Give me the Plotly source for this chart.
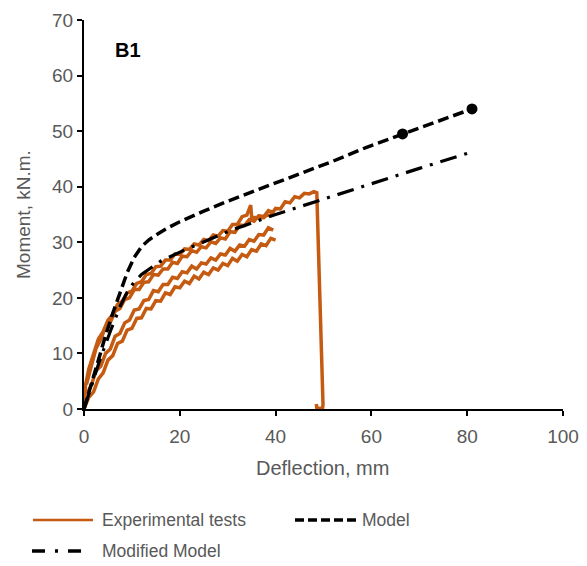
import plotly.graph_objects as go

# ---------------- data ----------------
x_ticks = [0, 20, 40, 60, 80, 100]
y_ticks = [0, 10, 20, 30, 40, 50, 60, 70]

# Experimental tests (several specimens, same legend entry)
expA_x = [0, 0.3, 1, 2, 3, 4, 5, 6, 7, 8, 9, 10, 11, 12, 13, 14, 15, 16, 17, 18, 19, 20,
          21, 22, 23, 24, 25, 26, 27, 28, 29, 30, 31, 32, 33, 34, 34.8, 35.0, 37.5,
          38, 39, 40, 41, 42, 43, 44, 45, 46, 47, 48, 48.6, 49.9, 49.8, 48.6, 48.5]
expA_y = [0.3, 4.2, 7.2, 9.8, 12.6, 13.9, 16.0, 17.0, 18.8, 19.4, 20.9, 21.2, 22.6, 22.9,
          24.2, 24.4, 25.6, 25.7, 26.8, 26.8, 27.9, 27.8, 28.8, 28.7, 29.7, 29.5, 30.5,
          30.3, 31.3, 31.1, 32.1, 32.0, 33.2, 33.2, 34.6, 34.9, 36.7, 34.5, 34.4, 34.8,
          34.9, 36.1, 36.0, 37.3, 37.1, 38.2, 38.0, 38.8, 38.7, 39.1, 38.9, 0.8, 0.1,
          0.2, 0.9]

expB_x = [0.5, 1.5, 2.5, 3.5, 4.5, 5.5, 6.5, 7.5, 8.5, 9.5, 10.5, 11.5, 12.5, 13.5,
          14.5, 15.5, 16.5, 17.5, 18.5, 19.5, 20.5, 21.5, 22.5, 23.5, 24.5, 25.5, 26.5,
          27.5, 28.5, 29.5, 30.5, 31.5, 32.5, 33.5, 34.5, 35.5, 36.5, 37.5, 38.5, 39.5]
expB_y = [4.4, 7.5, 10.9, 12.5, 14.8, 15.6, 17.6, 18.1, 19.7, 20.0, 21.5, 21.5, 22.8,
          22.9, 24.2, 24.1, 25.2, 25.2, 26.4, 26.2, 27.5, 27.4, 28.5, 28.2, 29.2, 29.0,
          30.1, 29.8, 30.8, 30.6, 31.9, 31.8, 33.1, 33.0, 34.1, 33.8, 34.8, 34.6, 35.7, 35.4]

expC_x = list(range(0, 41))
expC_y = [0, 2.1, 3.1, 5.4, 6.5, 8.8, 9.6, 11.8, 12.2, 14.2, 14.5, 16.3, 16.4, 18.1, 18.0,
          19.5, 19.4, 20.9, 20.6, 22.0, 21.8, 23.0, 22.6, 23.9, 23.4, 24.6, 24.2, 25.4,
          25.0, 26.2, 25.8, 27.1, 26.6, 27.8, 27.4, 28.7, 28.4, 29.7, 29.4, 30.7, 30.4]

expD_x = [0.5, 1.5, 2.5, 3.5, 4.5, 5.5, 6.5, 7.5, 8.5, 9.5, 10.5, 11.5, 12.5, 13.5,
          14.5, 15.5, 16.5, 17.5, 18.5, 19.5, 20.5, 21.5, 22.5, 23.5, 24.5, 25.5, 26.5,
          27.5, 28.5, 29.5, 30.5, 31.5, 32.5, 33.5, 34.5, 35.5, 36.5, 37.5, 38.5, 39.5]
expD_y = [2.6, 4.2, 6.9, 7.7, 10.0, 10.8, 13.1, 13.6, 15.5, 16.0, 17.8, 18.0, 19.5, 19.7,
          21.3, 21.1, 22.4, 22.4, 23.7, 23.5, 24.7, 24.5, 25.7, 25.2, 26.3, 26.1, 27.2,
          26.8, 27.9, 27.7, 28.9, 28.4, 29.5, 29.3, 30.5, 30.2, 31.4, 31.3, 32.6, 32.2]

# Model
model_x = [0, 1.5, 3, 4.5, 6, 7.5, 9, 10.5, 12, 13.5, 15, 17.5, 20, 25, 30, 37, 44, 52,
           59, 66.5, 73, 81]
model_y = [0, 4.5, 9, 13.2, 17.2, 21, 24.5, 27.3, 29.2, 30.4, 31.3, 32.6, 33.7, 35.6,
           37.4, 39.7, 42.0, 44.6, 47.1, 49.5, 51.5, 54.0]
model_pts_x = [66.5, 81]
model_pts_y = [49.5, 54.0]

# Modified model
mod_x = [0, 1.5, 3.3, 5.5, 7.5, 9, 10.5, 12, 13.5, 16, 20.7, 30.5, 40, 50, 60, 70, 80]
mod_y = [0, 4, 8.8, 14, 18.4, 21, 22.9, 24.2, 25.1, 26.6, 28.5, 32.1, 35.0, 37.8,
         40.6, 43.3, 46.0]

ORANGE = "#C55A11"
GREY = "#595959"
FONT = "Liberation Sans"

fig = go.Figure()

for xs, ys in [(expC_x, expC_y), (expD_x, expD_y), (expB_x, expB_y), (expA_x, expA_y)]:
    fig.add_trace(go.Scatter(x=xs, y=ys, mode="lines",
                             line=dict(color=ORANGE, width=3.5),
                             name="Experimental tests", legendgroup="exp",
                             showlegend=False))

fig.add_trace(go.Scatter(x=mod_x, y=mod_y, mode="lines",
                         line=dict(color="black", width=3.2,
                                   dash="17px,8px,3px,8px"),
                         name="Modified Model", showlegend=False))
fig.add_trace(go.Scatter(x=model_x, y=model_y, mode="lines",
                         line=dict(color="black", width=3.5, dash="11px,5px"),
                         name="Model", showlegend=False))
fig.add_trace(go.Scatter(x=model_pts_x, y=model_pts_y, mode="markers",
                         marker=dict(color="black", size=11),
                         name="Model", showlegend=False))

axis_common = dict(showgrid=False, zeroline=False, showline=True, automargin=False,
                   linecolor="black", linewidth=2, ticks="outside",
                   ticklen=5, tickwidth=2, tickcolor="black",
                   tickfont=dict(family=FONT, size=19, color=GREY))

fig.update_layout(
    width=587, height=566,
    margin=dict(l=84, r=24, t=20, b=157),
    paper_bgcolor="white", plot_bgcolor="white",
    showlegend=False,
    xaxis=dict(range=[0, 100], tickvals=x_ticks, ticklabelstandoff=4, **axis_common),
    yaxis=dict(range=[0, 70], tickvals=y_ticks, ticksuffix="\u00a0\u00a0",
               **axis_common),
    xaxis2=dict(range=[0, 100], tickvals=x_ticks, overlaying="x", anchor="y",
                side="bottom", ticks="inside", ticklen=5, tickwidth=2, automargin=False,
                tickcolor="black", showticklabels=False, showgrid=False,
                zeroline=False, showline=False),
    yaxis2=dict(range=[0, 70], tickvals=y_ticks, overlaying="y", anchor="x",
                side="left", ticks="inside", ticklen=5, tickwidth=2, automargin=False,
                tickcolor="black", showticklabels=False, showgrid=False,
                zeroline=False, showline=False),
)


def px_x(p):
    return (p - 84) / 479.0


def px_y(p):
    return (409 - p) / 389.0


# axis titles
fig.add_annotation(x=0.498, y=px_y(468), xref="paper", yref="paper",
                   text="Deflection, mm", showarrow=False, xanchor="center",
                   yanchor="middle", font=dict(family=FONT, size=20, color=GREY))
fig.add_annotation(x=px_x(24), y=px_y(215), xref="paper", yref="paper",
                   text="Moment, kN.m.", showarrow=False, textangle=-90,
                   xanchor="center", yanchor="middle",
                   font=dict(family=FONT, size=19, color=GREY))

# "B1" label
fig.add_annotation(x=px_x(113), y=px_y(50), xref="paper", yref="paper",
                   text="<b>B1</b>", showarrow=False, xanchor="left",
                   yanchor="middle",
                   font=dict(family=FONT, size=20, color="black"))

# ---------------- legend (drawn below the plot) ----------------
legend_items = [
    dict(x0=33, x1=93, y=520, color=ORANGE, width=2.5, dash="solid",
         text="Experimental tests", tx=100),
    dict(x0=295, x1=357, y=520, color="black", width=3.5, dash="9px,4px",
         text="Model", tx=360),
    dict(x0=32, x1=82, y=551, color="black", width=3.5, dash="13px,10px,3px,10px",
         text="Modified Model", tx=100),
]
for it in legend_items:
    fig.add_shape(type="line", xref="paper", yref="paper",
                  x0=px_x(it["x0"]), x1=px_x(it["x1"]),
                  y0=px_y(it["y"]), y1=px_y(it["y"]),
                  line=dict(color=it["color"], width=it["width"], dash=it["dash"]))
    fig.add_annotation(x=px_x(it["tx"]), y=px_y(it["y"]), xref="paper", yref="paper",
                       text=it["text"], showarrow=False, xanchor="left",
                       yanchor="middle",
                       font=dict(family=FONT, size=17.5, color=GREY))

fig.write_html("out.html",
               config={"displayModeBar": False},
               post_script="document.body.style.margin='0';"
                           "document.documentElement.style.margin='0';"
                           "document.body.style.overflow='hidden';")
